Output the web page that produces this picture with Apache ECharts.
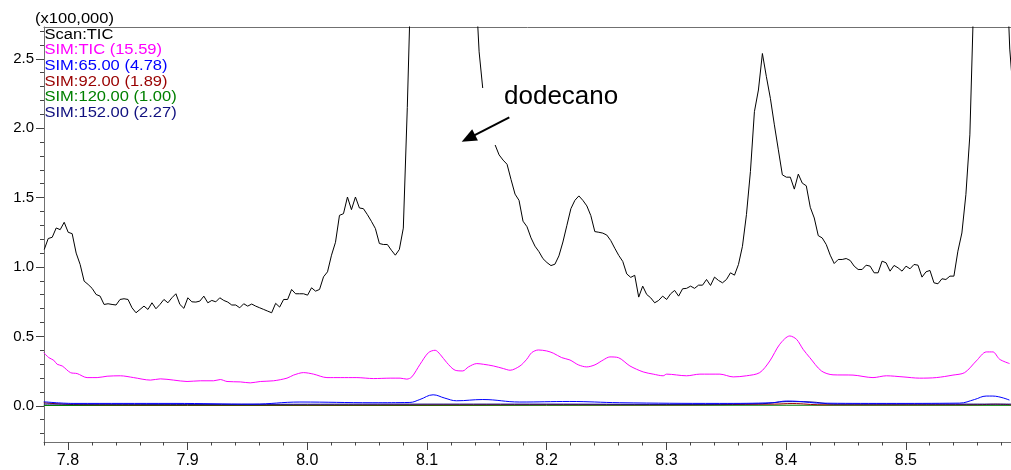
<!DOCTYPE html>
<html><head><meta charset="utf-8">
<script src="https://cdn.jsdelivr.net/npm/echarts@6/dist/echarts.min.js"></script>
<style>html,body{margin:0;padding:0;background:#fff}#c{width:1011px;height:470px}</style>
</head><body><div id="c"></div>
<script>
// ---- data ----
const SCAN_START = 7.7802;      // retention time of first scan (min)
const SCAN_STEP = 1 / 300;      // 0.2 s scan interval (min)
const scanTIC = [
1.126,1.205,1.214,1.281,1.269,1.322,1.25,1.24,1.10,1.018,
0.898,0.874,0.846,0.802,0.790,0.730,0.735,0.730,0.726,0.766,
0.771,0.766,0.706,0.670,0.694,0.718,0.694,0.742,0.699,0.730,
0.766,0.742,0.778,0.807,0.730,0.702,0.778,0.749,0.747,0.754,
0.790,0.742,0.759,0.749,0.778,0.759,0.747,0.726,0.726,0.706,
0.735,0.718,0.733,0.718,0.706,0.694,0.682,0.670,0.738,0.711,
0.766,0.766,0.838,0.807,0.807,0.807,0.797,0.850,0.826,0.838,
0.929,0.965,1.085,1.178,1.372,1.384,1.504,1.413,1.504,1.425,
1.420,1.377,1.329,1.277,1.169,1.162,1.162,1.121,1.085,1.126,
1.28,2.15,3.2,4.6,6.3,8.0,9.5,10.6,11.2,11.3,
10.9,10.0,8.8,7.4,6.0,4.8,3.9,3.3,3.1,2.55,
2.26,2.06,1.96,1.88,1.808,1.77,1.74,1.63,1.525,1.48,
1.33,1.29,1.21,1.15,1.11,1.06,1.032,1.01,1.02,1.08,
1.18,1.30,1.42,1.48,1.512,1.48,1.44,1.37,1.255,1.25,
1.244,1.23,1.19,1.135,1.083,1.04,0.95,0.925,0.94,0.783,
0.862,0.802,0.778,0.742,0.759,0.790,0.766,0.807,0.831,0.790,
0.843,0.846,0.862,0.846,0.869,0.869,0.910,0.867,0.927,0.903,
0.886,0.910,0.958,0.941,1.018,1.149,1.377,1.688,2.119,2.275,
2.538,2.371,2.215,2.024,1.844,1.664,1.647,1.647,1.561,1.669,
1.604,1.585,1.430,1.353,1.226,1.209,1.162,1.085,1.025,1.054,
1.054,1.061,1.047,1.006,0.982,0.982,1.013,1.006,0.958,0.958,
1.042,1.030,0.970,1.011,0.994,0.970,1.006,0.987,1.018,1.013,
0.927,0.965,0.975,0.886,0.879,0.915,0.910,0.934,0.934,1.114,
1.245,1.521,1.952,2.97,4.0,5.0,5.6,5.8,5.5,4.8,
4.0,3.3,2.57,2.2
];
const simTIC = [
[7.7798,0.383],[7.7840,0.347],[7.7881,0.328],[7.7910,0.299],[7.7952,0.287],[7.8021,0.239],[7.8077,0.232],[7.8160,0.203],[7.8244,0.203],[7.8327,0.213],
[7.8438,0.216],[7.8549,0.203],[7.8689,0.185],[7.8772,0.194],[7.8883,0.185],[7.8995,0.175],[7.9106,0.180],[7.9217,0.180],[7.9273,0.189],[7.9329,0.175],
[7.9440,0.172],[7.9523,0.165],[7.9607,0.175],[7.9718,0.180],[7.9830,0.199],[7.9885,0.221],[7.9968,0.239],[8.0052,0.228],[8.0164,0.203],[8.0275,0.203],
[8.0414,0.203],[8.0553,0.196],[8.0692,0.199],[8.0775,0.199],[8.0831,0.192],[8.0873,0.208],[8.0942,0.299],[8.1012,0.383],[8.1068,0.400],[8.1109,0.371],
[8.1165,0.311],[8.1235,0.256],[8.1299,0.251],[8.1346,0.280],[8.1416,0.304],[8.1471,0.299],[8.1554,0.287],[8.1638,0.268],[8.1694,0.256],[8.1777,0.287],
[8.1833,0.335],[8.1875,0.383],[8.1930,0.402],[8.2000,0.395],[8.2055,0.379],[8.2125,0.347],[8.2194,0.330],[8.2264,0.295],[8.2334,0.280],[8.2403,0.295],
[8.2472,0.330],[8.2528,0.352],[8.2598,0.347],[8.2695,0.287],[8.2806,0.244],[8.2890,0.228],[8.2973,0.216],[8.3002,0.228],[8.3169,0.216],[8.3280,0.228],
[8.3447,0.228],[8.3558,0.208],[8.3669,0.216],[8.3780,0.239],[8.3864,0.323],[8.3947,0.443],[8.4031,0.503],[8.4087,0.479],[8.4142,0.407],[8.4198,0.347],
[8.4295,0.251],[8.4392,0.223],[8.4559,0.221],[8.4726,0.203],[8.4838,0.216],[8.4977,0.208],[8.5116,0.199],[8.5255,0.203],[8.5394,0.221],[8.5492,0.239],
[8.5589,0.323],[8.5673,0.388],[8.5728,0.388],[8.5784,0.335],[8.5867,0.304]
];
const sim65 = [
[7.7798,0.029],[7.8043,0.017],[7.8878,0.017],[7.9546,0.012],[7.9938,0.027],[8.0548,0.022],[8.0857,0.024],[8.0940,0.045],[8.1051,0.079],[8.1149,0.055],
[8.1246,0.036],[8.1466,0.045],[8.1775,0.027],[8.2192,0.031],[8.2610,0.022],[8.3445,0.017],[8.3887,0.022],[8.4002,0.034],[8.4113,0.031],[8.4280,0.019],
[8.4837,0.017],[8.5448,0.019],[8.5574,0.045],[8.5672,0.070],[8.5727,0.070],[8.5866,0.041]
];
const sim92 = [
[7.7798,0.022],[7.7900,0.015],[7.8100,0.008],[7.9000,0.006],[8.0000,0.006],[8.1000,0.007],[8.2000,0.008],[8.3000,0.007],[8.3900,0.012],[8.4050,0.016],
[8.4300,0.007],[8.5600,0.008],[8.5750,0.011],[8.5880,0.008]
];
const sim120 = [
[7.7798,0.002],[7.9000,0.002],[8.1000,0.002],[8.2000,0.003],[8.4000,0.004],[8.5880,0.003]
];
const sim152 = [
[7.7798,0.012],[7.9000,0.010],[8.1000,0.012],[8.2000,0.012],[8.3000,0.010],[8.3800,0.015],[8.4000,0.030],[8.4200,0.028],[8.4400,0.012],[8.5880,0.012]
];
const xMajorTicks = [7.8, 7.9, 8.0, 8.1, 8.2, 8.3, 8.4, 8.5];
const xMinorTicks = [7.78,7.80,7.82,7.84,7.86,7.88,7.90,7.92,7.94,7.96,7.98,8.00,8.02,8.04,8.06,8.08,8.10,8.12,8.14,8.16,8.18,8.20,8.22,8.24,8.26,8.28,8.30,8.32,8.34,8.36,8.38,8.40,8.42,8.44,8.46,8.48,8.50,8.52,8.54,8.56,8.58];
const yMajorTicks = [0.0, 0.5, 1.0, 1.5, 2.0, 2.5];
const yMinorTicks = [-0.2,-0.1,0.1,0.2,0.3,0.4,0.6,0.7,0.8,0.9,1.1,1.2,1.3,1.4,1.6,1.7,1.8,1.9,2.1,2.2,2.3,2.4,2.6,2.7];
const legendLabels = ['Scan:TIC', 'SIM:TIC (15.59)', 'SIM:65.00 (4.78)', 'SIM:92.00 (1.89)', 'SIM:120.00 (1.00)', 'SIM:152.00 (2.27)'];
const seriesColors = ['#000000', '#ff00ff', '#0000ff', '#990000', '#008000', '#10107f'];
const scaleLabel = '(x100,000)';
const annotationText = 'dodecano';

// ---- chart ----
const X_MIN = 7.78, X_MAX = 8.5879, Y_MIN = -0.261, Y_MAX = 2.729;
const FONT = "'Liberation Sans', Arial, Helvetica, sans-serif";
const AXIS_COLOR = '#707070', TICK_COLOR = '#444';
const scanData = scanTIC.map((v, i) => [SCAN_START + i * SCAN_STEP, v]);

const chart = echarts.init(document.getElementById('c'), null, {renderer: 'canvas'});
const lineSeries = (name, data, color, z, smooth) => ({
  name, type: 'line', data, xAxisIndex: 0, yAxisIndex: 0, showSymbol: false, symbol: 'none',
  smooth: smooth || false, clip: true, z,
  lineStyle: {color, width: 1}, itemStyle: {color}, animation: false
});

const graphics = [];
legendLabels.forEach((t, i) => {
  graphics.push({type: 'text', x: 44.5, y: 35 + i * 15.6, scaleX: 1.18, scaleY: 1, z: 100,
    style: {text: t, fill: seriesColors[i], font: '14px ' + FONT, verticalAlign: 'middle', align: 'left'}});
});
graphics.push({type: 'text', x: 35, y: 19.5, scaleX: 1.18, z: 100,
  style: {text: scaleLabel, fill: '#000', font: '14px ' + FONT, verticalAlign: 'middle', align: 'left'}});
// annotation box (white background hiding the trace)
graphics.push({type: 'rect', shape: {x: 458, y: 88, width: 166, height: 57}, style: {fill: '#fff'}, z: 90, silent: true});
graphics.push({type: 'text', x: 504, y: 97, z: 100,
  style: {text: annotationText, fill: '#000', font: '26px ' + FONT, verticalAlign: 'middle', align: 'left'}});
// arrow
const tail = [509.3, 117.3], tip = [461.7, 141.7];
const dx = tip[0] - tail[0], dy = tip[1] - tail[1], L = Math.hypot(dx, dy);
const ux = dx / L, uy = dy / L, hl = 15, hw = 6.3;
const bx = tip[0] - ux * hl, by = tip[1] - uy * hl;
graphics.push({type: 'line', shape: {x1: tail[0], y1: tail[1], x2: bx + ux * 2, y2: by + uy * 2}, style: {stroke: '#000', lineWidth: 2}, z: 100});
graphics.push({type: 'polygon', shape: {points: [tip, [bx - uy * hw, by + ux * hw], [bx + uy * hw, by - ux * hw]]}, style: {fill: '#000'}, z: 100});

const option = {
  animation: false,
  backgroundColor: '#fff',
  textStyle: {fontFamily: FONT},
  grid: {left: 44, right: 0, top: 27, bottom: 28, containLabel: false},
  xAxis: [
    {type: 'value', min: X_MIN, max: X_MAX, position: 'bottom',
     axisLine: {show: true, onZero: false, lineStyle: {color: AXIS_COLOR, width: 1}},
     axisTick: {show: true, customValues: xMajorTicks, length: 8, lineStyle: {color: TICK_COLOR}},
     axisLabel: {show: true, customValues: xMajorTicks, formatter: v => v.toFixed(1), fontSize: 16, color: '#000', fontFamily: FONT, margin: 11},
     splitLine: {show: false}},
    {type: 'value', min: X_MIN, max: X_MAX, position: 'bottom',
     axisLine: {show: false, onZero: false},
     axisTick: {show: true, customValues: xMinorTicks, length: 3.5, lineStyle: {color: TICK_COLOR}},
     axisLabel: {show: false}, splitLine: {show: false}},
    {type: 'value', min: X_MIN, max: X_MAX, position: 'top',
     axisLine: {show: true, onZero: false, lineStyle: {color: AXIS_COLOR, width: 1}},
     axisTick: {show: false}, axisLabel: {show: false}, splitLine: {show: false}}
  ],
  yAxis: [
    {type: 'value', min: Y_MIN, max: Y_MAX, position: 'left',
     axisLine: {show: true, onZero: false, lineStyle: {color: AXIS_COLOR, width: 1}},
     axisTick: {show: true, customValues: yMajorTicks, length: 8, lineStyle: {color: TICK_COLOR}},
     axisLabel: {show: true, customValues: yMajorTicks, formatter: v => v.toFixed(1), fontSize: 15, color: '#000', fontFamily: FONT, margin: 10},
     splitLine: {show: false}},
    {type: 'value', min: Y_MIN, max: Y_MAX, position: 'left',
     axisLine: {show: false, onZero: false},
     axisTick: {show: true, customValues: yMinorTicks, length: 4, lineStyle: {color: TICK_COLOR}},
     axisLabel: {show: false}, splitLine: {show: false}}
  ],
  series: [
    lineSeries(legendLabels[4], sim120, seriesColors[4], 2, false),
    lineSeries(legendLabels[3], sim92, seriesColors[3], 3, 0.4),
    lineSeries(legendLabels[5], sim152, seriesColors[5], 4, 0.4),
    lineSeries(legendLabels[2], sim65, seriesColors[2], 5, 0.4),
    lineSeries(legendLabels[1], simTIC, seriesColors[1], 6, 0.3),
    lineSeries(legendLabels[0], scanData, seriesColors[0], 7, false)
  ],
  graphic: graphics
};
chart.setOption(option);
</script>
</body></html>
